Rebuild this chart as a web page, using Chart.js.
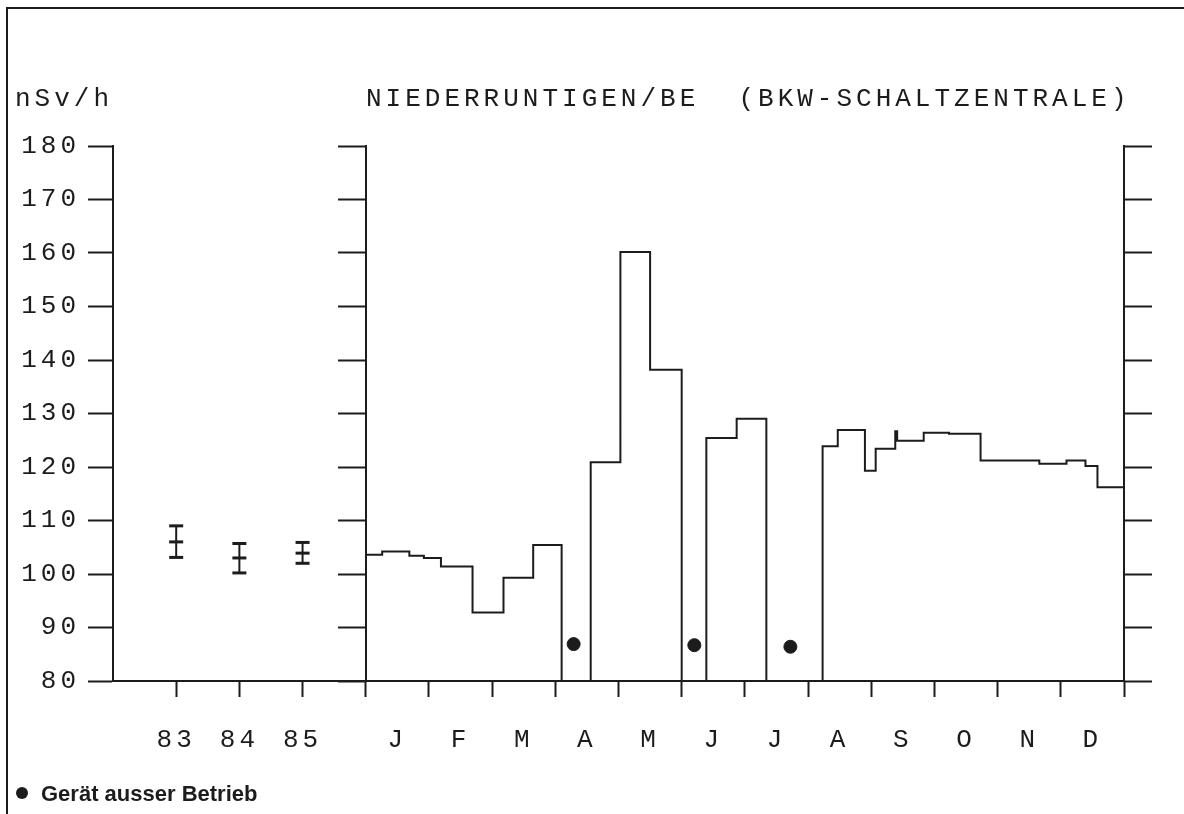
<!DOCTYPE html>
<html>
<head>
<meta charset="utf-8">
<script src="https://cdn.jsdelivr.net/npm/chart.js@4"></script>
<style>
html, body { margin: 0; padding: 0; background: #fff; }
canvas { display: block; }
</style>
</head>
<body>
<canvas id="myChart" width="1184" height="814"></canvas>
<script>
const months = ['J', 'F', 'M', 'A', 'M', 'J', 'J', 'A', 'S', 'O', 'N', 'D']
const years = ['83', '84', '85']
const yearPos = [-3, -2, -1]
const yearMean = [106.0, 103.0, 103.9]
const yearLow = [103.1, 100.2, 102.0]
const yearHigh = [109.0, 105.7, 105.9]

// measuring periods: start (months since 1 Jan) and mean value, 80 = no data
const stepX = [0, 0.26, 0.69, 0.92, 1.19, 1.69, 2.18, 2.65, 3.10, 3.56, 4.03, 4.50, 5.00, 5.39, 5.87, 6.34,
   7.23, 7.47, 7.90, 8.07, 8.38, 8.41, 8.83, 9.23, 9.73, 10.66, 11.09, 11.39, 11.58, 12]
const stepY = [103.6, 104.2, 103.4, 103.0, 101.4, 92.8, 99.3, 105.4, 80, 120.9, 160.2, 138.2, 80, 125.4, 129.0, 80,
   123.9, 126.9, 119.3, 123.4, 126.7, 124.9, 126.4, 126.2, 121.2, 120.6, 121.2, 120.2, 116.2, 116.2]

// Gerät ausser Betrieb
const offX = [3.29, 5.20, 6.72]
const offY = [86.9, 86.7, 86.4]

const yMin = 80
const yMax = 180
const yStep = 10

const ink = '#1c1c1c'
const plotFont = { family: '"Liberation Mono", monospace', size: 26 }

const xTicks = yearPos.concat([0])
for (let m = 0; m < 12; m++) xTicks.push(m + 0.5, m + 1)

function xLabel(v) {
   const yi = yearPos.indexOf(v)
   if (yi >= 0) return years[yi]
   if (v % 1 === 0.5) return months[Math.floor(v)]
   return ''
}

const datasets = [
   {
      type: 'line',
      data: stepX.map((x, i) => ({ x: x, y: stepY[i] })),
      stepped: true,
      borderColor: ink,
      borderWidth: 2,
      pointRadius: 0,
      fill: false
   },
   {
      type: 'scatter',
      data: offX.map((x, i) => ({ x: x, y: offY[i] })),
      backgroundColor: ink,
      borderColor: ink,
      pointRadius: 6.5
   },
   {
      type: 'scatter',
      data: yearPos.map((x, i) => ({ x: x, y: yearMean[i] })),
      pointStyle: 'line',
      pointRadius: 7,
      borderColor: ink,
      pointBorderWidth: 3
   }
]
yearPos.forEach((x, i) => {
   datasets.push({
      type: 'line',
      data: [{ x: x, y: yearLow[i] }, { x: x, y: yearHigh[i] }],
      borderColor: ink,
      borderWidth: 2,
      pointStyle: 'line',
      pointRadius: 7,
      pointBorderWidth: 3,
      pointBorderColor: ink
   })
})

const decor = {
   id: 'decor',
   beforeDraw(chart) {
      chart.ctx.letterSpacing = '4px'
   },
   afterDraw(chart) {
      const c = chart.ctx
      c.save()
      c.fillStyle = ink
      c.textAlign = 'left'
      c.textBaseline = 'alphabetic'
      c.letterSpacing = '4px'
      c.font = '26px "Liberation Mono", monospace'
      c.fillText('nSv/h', 15, 106)
      c.fillText('NIEDERRUNTIGEN/BE  (BKW-SCHALTZENTRALE)', 366, 106)

      c.letterSpacing = '0px'
      c.beginPath()
      c.arc(22, 793, 6, 0, Math.PI * 2)
      c.fill()
      c.font = 'bold 22px "Liberation Sans", Arial, sans-serif'
      c.fillText('Gerät ausser Betrieb', 41, 801)

      c.strokeStyle = ink
      c.lineWidth = 2
      c.beginPath()
      c.moveTo(7, 814)
      c.lineTo(7, 8)
      c.lineTo(1184, 8)
      c.stroke()
      c.restore()
   }
}

const ctx = document.getElementById('myChart').getContext('2d')
const myChart = new Chart(ctx, {
   data: { datasets: datasets },
   options: {
      responsive: false,
      animation: false,
      devicePixelRatio: 1,
      layout: { padding: { top: 146, left: 0, right: 0, bottom: 0 } },
      plugins: {
         legend: { display: false },
         tooltip: { enabled: false },
         title: { display: false }
      },
      scales: {
         x: {
            type: 'linear',
            position: 'bottom',
            min: -4,
            max: 12,
            afterBuildTicks: (s) => { s.ticks = xTicks.map(v => ({ value: v })) },
            afterFit: (s) => { s.height = 133 },
            grid: {
               drawOnChartArea: false,
               tickLength: 16,
               tickWidth: 2,
               tickColor: (c) => (c.tick && c.tick.value % 1 === 0 ? ink : 'rgba(0,0,0,0)')
            },
            border: { color: ink, width: 2 },
            ticks: {
               autoSkip: false,
               maxRotation: 0,
               padding: 28,
               color: ink,
               font: plotFont,
               callback: (v) => xLabel(v)
            }
         },
         y: {
            type: 'linear',
            position: 'left',
            min: yMin,
            max: yMax,
            afterFit: (s) => { s.width = 113 },
            grid: { drawOnChartArea: false, tickLength: 25, tickWidth: 2, tickColor: ink },
            border: { color: ink, width: 2 },
            ticks: { stepSize: yStep, padding: 8, color: ink, font: plotFont }
         },
         ymid: {
            type: 'linear',
            position: { x: 0 },
            min: yMin,
            max: yMax,
            grid: { drawOnChartArea: false, tickLength: 27, tickWidth: 2, tickColor: ink },
            border: { color: ink, width: 2 },
            ticks: { stepSize: yStep, display: false }
         },
         yright: {
            type: 'linear',
            position: 'right',
            min: yMin,
            max: yMax,
            afterFit: (s) => { s.width = 60 },
            grid: { drawOnChartArea: false, tickLength: 28, tickWidth: 2, tickColor: ink },
            border: { color: ink, width: 2 },
            ticks: { stepSize: yStep, display: false }
         }
      }
   },
   plugins: [decor]
})
</script>
</body>
</html>
